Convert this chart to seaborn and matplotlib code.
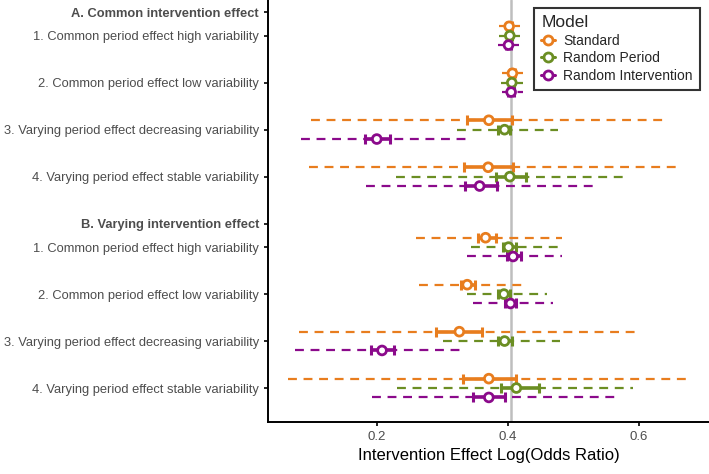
import numpy as np
import pandas as pd
import matplotlib
matplotlib.use("Agg")
import matplotlib.pyplot as plt
import seaborn as sns
from matplotlib.lines import Line2D

# Scenario labels (two header rows in bold)
headers = ["A. Common intervention effect", "B. Varying intervention effect"]
scenarios = [
    "1. Common period effect high variability",
    "2. Common period effect low variability",
    "3. Varying period effect decreasing variability",
    "4. Varying period effect stable variability",
]
models = ["Standard", "Random Period", "Random Intervention"]
true_effect = 0.405

# Point estimates, inner (solid) interval and outer (dashed) interval per model,
# order: A1..A4, B1..B4
std_est = [0.402, 0.407, 0.371, 0.370, 0.366, 0.338, 0.326, 0.371]
std_in_lo = [0.398, 0.403, 0.337, 0.333, 0.354, 0.329, 0.290, 0.331]
std_in_hi = [0.406, 0.411, 0.407, 0.408, 0.382, 0.350, 0.361, 0.412]
std_out_lo = [0.387, 0.391, 0.100, 0.097, 0.260, 0.265, 0.081, 0.065]
std_out_hi = [0.418, 0.423, 0.640, 0.658, 0.483, 0.422, 0.600, 0.675]

rp_est = [0.403, 0.406, 0.395, 0.403, 0.401, 0.394, 0.395, 0.413]
rp_in_lo = [0.399, 0.402, 0.385, 0.382, 0.392, 0.385, 0.385, 0.390]
rp_in_hi = [0.407, 0.410, 0.403, 0.427, 0.412, 0.404, 0.406, 0.448]
rp_out_lo = [0.387, 0.390, 0.322, 0.229, 0.344, 0.338, 0.301, 0.231]
rp_out_hi = [0.419, 0.423, 0.477, 0.578, 0.477, 0.460, 0.479, 0.591]

ri_est = [0.401, 0.405, 0.200, 0.357, 0.408, 0.404, 0.208, 0.371]
ri_in_lo = [0.397, 0.401, 0.182, 0.335, 0.399, 0.395, 0.191, 0.347]
ri_in_hi = [0.405, 0.409, 0.220, 0.384, 0.420, 0.413, 0.227, 0.395]
ri_out_lo = [0.385, 0.391, 0.084, 0.183, 0.337, 0.347, 0.075, 0.192]
ri_out_hi = [0.417, 0.423, 0.336, 0.532, 0.482, 0.469, 0.328, 0.566]

colors = {"Standard": "#E87D1E", "Random Period": "#6B8E23", "Random Intervention": "#8B0A8B"}

# -------------------------------
# Build long table
# -------------------------------
scen_pos = [0.5, 1.5, 2.5, 3.5, 5.0, 6.0, 7.0, 8.0]
header_pos = [0.0, 4.5]
offsets = {"Standard": -0.2, "Random Period": 0.0, "Random Intervention": 0.2}

cols = {
    "Standard": (std_est, std_in_lo, std_in_hi, std_out_lo, std_out_hi),
    "Random Period": (rp_est, rp_in_lo, rp_in_hi, rp_out_lo, rp_out_hi),
    "Random Intervention": (ri_est, ri_in_lo, ri_in_hi, ri_out_lo, ri_out_hi),
}
rows = []
for m in models:
    est, ilo, ihi, olo, ohi = cols[m]
    for i, p in enumerate(scen_pos):
        rows.append(dict(Model=m, y=p + offsets[m], est=est[i],
                         in_lo=ilo[i], in_hi=ihi[i], out_lo=olo[i], out_hi=ohi[i]))
df = pd.DataFrame(rows)

# -------------------------------
# Plot
# -------------------------------
sns.set_theme(style="ticks")
plt.rcParams["font.family"] = ["Liberation Sans", "DejaVu Sans"]

fig = plt.figure(figsize=(7.09, 4.74), dpi=100)
ax = fig.add_axes([0.378, 0.11, 0.622, 0.89])

ax.axvline(true_effect, color="#BEBEBE", lw=1.8, zorder=0)

for m in models:
    d = df[df.Model == m]
    c = colors[m]
    ax.hlines(d.y, d.out_lo, d.out_hi, colors=c, lw=1.6, linestyles=(0, (4, 3)), zorder=1)
    ax.errorbar(d.est, d.y, xerr=[d.est - d.in_lo, d.in_hi - d.est], fmt="none",
                ecolor=c, elinewidth=2.6, capsize=3.5, capthick=2.2, zorder=2)

sns.scatterplot(data=df, x="est", y="y", hue="Model", hue_order=models, palette=colors,
                marker="o", s=40, linewidth=2.0, ax=ax, zorder=3, legend=False)
# white fill with coloured edge
coll = ax.collections[-1]
coll.set_edgecolors([colors[m] for m in df.Model])
coll.set_facecolor("white")

# Legend
handles = [Line2D([], [], color=colors[m], marker="o", markerfacecolor="white",
                  markeredgewidth=2.0, markersize=6.5, lw=2.2) for m in models]
leg = ax.legend(handles, models, title="Model", loc="upper right",
                bbox_to_anchor=(0.995, 0.997), frameon=True, fontsize=10,
                title_fontsize=12.5, handlelength=1.0, handletextpad=0.6,
                borderpad=0.5, labelspacing=0.25, fancybox=False, alignment="left")
leg.get_frame().set_edgecolor("black")
leg.get_frame().set_linewidth(1.5)

# Axes styling
ytick_pos = [header_pos[0]] + scen_pos[:4] + [header_pos[1]] + scen_pos[4:]
ytick_lab = [headers[0]] + scenarios + [headers[1]] + scenarios
ax.set_yticks(ytick_pos)
ax.set_yticklabels(ytick_lab, fontsize=9.3, color="#4D4D4D")
for lab in ax.get_yticklabels():
    if lab.get_text() in headers:
        lab.set_fontweight("bold")
ax.set_ylim(8.72, -0.26)
ax.set_xlim(0.034, 0.707)
ax.set_xticks([0.2, 0.4, 0.6])
ax.set_xticklabels(["0.2", "0.4", "0.6"], fontsize=9.5, color="#4D4D4D")
ax.set_xlabel("Intervention Effect Log(Odds Ratio)", fontsize=12, color="black")
ax.set_ylabel("")
ax.tick_params(axis="both", length=3, width=1.2, color="black")
sns.despine(ax=ax)
for s in ["left", "bottom"]:
    ax.spines[s].set_color("black")
    ax.spines[s].set_linewidth(1.4)

fig.savefig("out.png", dpi=100)
